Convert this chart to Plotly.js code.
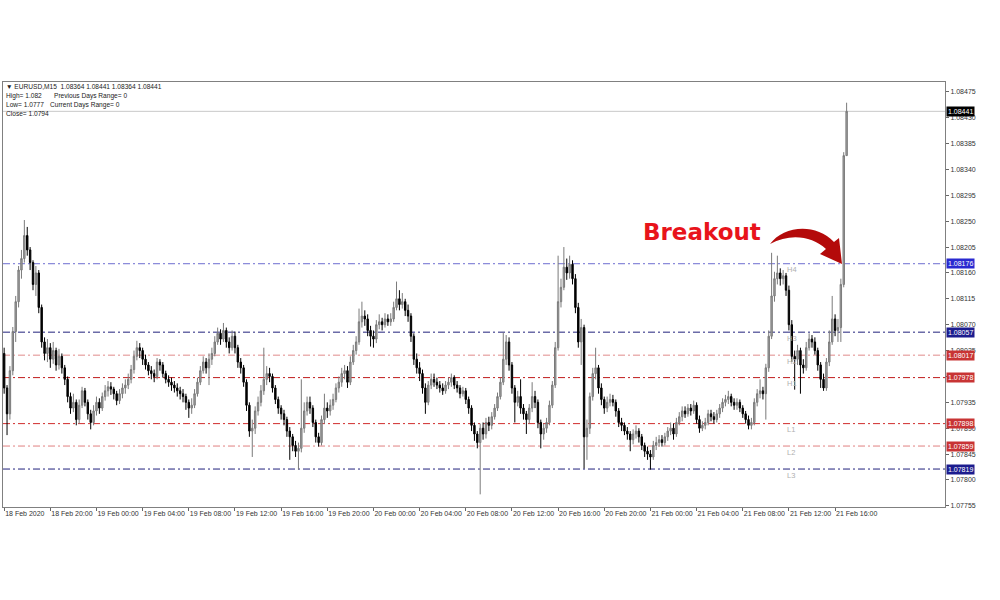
<!DOCTYPE html>
<html>
<head>
<meta charset="utf-8">
<script src="https://cdn.plot.ly/plotly-3.0.1.min.js"></script>
<style>html,body{margin:0;padding:0;background:#fff;}#chart{width:1000px;height:600px;}</style>
</head>
<body>
<div id="chart"></div>
<script>
// ---- data (EURUSD M15, 18 Feb 2020 16:00 -> 21 Feb 2020 17:00) ----
const startTime = "2020-02-18 16:00";
const barMinutes = 15;
const firstOpen = 1.08020;
const closes = [
1.07960,1.07915,1.07990,1.08058,1.08110,1.08165,1.08185,1.08225,1.08200,1.08178,1.08140,1.08160,1.08100,1.08040,1.08020,1.08030,
1.08010,1.08025,1.08000,1.08015,1.07995,1.07975,1.07945,1.07925,1.07935,1.07905,1.07930,1.07955,1.07935,1.07915,1.07900,1.07920,
1.07935,1.07925,1.07945,1.07955,1.07962,1.07958,1.07950,1.07938,1.07950,1.07960,1.07965,1.07975,1.07992,1.08015,1.08030,1.08025,
1.08010,1.08000,1.07990,1.07985,1.07980,1.08005,1.08000,1.07985,1.07975,1.07970,1.07965,1.07960,1.07955,1.07950,1.07945,1.07935,
1.07925,1.07930,1.07950,1.07970,1.07990,1.08005,1.07995,1.08010,1.08020,1.08040,1.08055,1.08045,1.08060,1.08040,1.08030,1.08050,
1.08030,1.08005,1.07995,1.07970,1.07930,1.07885,1.07890,1.07920,1.07935,1.07955,1.07975,1.07985,1.07980,1.07960,1.07940,1.07925,
1.07915,1.07905,1.07885,1.07875,1.07860,1.07850,1.07855,1.07890,1.07920,1.07935,1.07925,1.07900,1.07875,1.07865,1.07905,1.07925,
1.07920,1.07930,1.07940,1.07960,1.07970,1.07985,1.07990,1.07970,1.08005,1.08025,1.08040,1.08075,1.08085,1.08080,1.08060,1.08050,
1.08045,1.08070,1.08075,1.08070,1.08080,1.08075,1.08080,1.08100,1.08115,1.08105,1.08110,1.08095,1.08085,1.08050,1.08010,1.07995,
1.07985,1.07960,1.07935,1.07965,1.07975,1.07970,1.07965,1.07960,1.07955,1.07965,1.07970,1.07978,1.07965,1.07960,1.07950,1.07955,
1.07940,1.07925,1.07895,1.07880,1.07865,1.07890,1.07880,1.07900,1.07895,1.07910,1.07925,1.07945,1.07970,1.08010,1.08040,1.08000,
1.07960,1.07935,1.07945,1.07925,1.07915,1.07905,1.07925,1.07945,1.07935,1.07900,1.07880,1.07890,1.07900,1.07930,1.07965,1.08030,
1.08110,1.08135,1.08170,1.08160,1.08175,1.08150,1.08100,1.08040,1.08065,1.07875,1.07890,1.07945,1.07985,1.07995,1.07960,1.07940,
1.07925,1.07935,1.07940,1.07935,1.07920,1.07900,1.07895,1.07885,1.07880,1.07870,1.07880,1.07885,1.07875,1.07860,1.07850,1.07845,
1.07840,1.07860,1.07865,1.07870,1.07865,1.07875,1.07885,1.07890,1.07880,1.07900,1.07910,1.07920,1.07915,1.07925,1.07920,1.07930,
1.07905,1.07890,1.07895,1.07900,1.07915,1.07910,1.07905,1.07915,1.07925,1.07935,1.07940,1.07945,1.07935,1.07930,1.07935,1.07925,
1.07915,1.07905,1.07895,1.07900,1.07935,1.07950,1.07955,1.07950,1.07995,1.08050,1.08120,1.08150,1.08160,1.08150,1.08155,1.08130,
1.08070,1.08015,1.08010,1.08025,1.08000,1.07995,1.08030,1.08045,1.08040,1.08025,1.08000,1.07975,1.07960,1.08005,1.08040,1.08080,
1.08060,1.08065,1.08140,1.08364,1.08441
];
const highs = [
1.08030,1.07965,1.07998,1.08066,1.08120,1.08172,1.08200,1.08252,1.08240,1.08205,1.08182,1.08172,1.08165,1.08105,1.08048,1.08045,
1.08038,1.08040,1.08030,1.08028,1.08020,1.08000,1.07980,1.07952,1.07950,1.07940,1.07940,1.07962,1.07960,1.07940,1.07922,1.07930,
1.07945,1.07942,1.07952,1.07965,1.07972,1.07970,1.07962,1.07955,1.07958,1.07968,1.07975,1.07985,1.08000,1.08025,1.08042,1.08038,
1.08030,1.08018,1.08005,1.07998,1.07992,1.08012,1.08010,1.08005,1.07990,1.07982,1.07978,1.07972,1.07968,1.07962,1.07958,1.07950,
1.07940,1.07942,1.07958,1.07978,1.07998,1.08015,1.08012,1.08020,1.08030,1.08050,1.08065,1.08062,1.08073,1.08065,1.08048,1.08060,
1.08058,1.08035,1.08012,1.08000,1.07975,1.07935,1.07905,1.07928,1.07945,1.07965,1.08030,1.07998,1.07995,1.07985,1.07965,1.07945,
1.07930,1.07922,1.07910,1.07892,1.07880,1.07868,1.07865,1.07975,1.07935,1.07945,1.07945,1.07930,1.07905,1.07882,1.07912,1.07950,
1.07935,1.07940,1.07950,1.07968,1.07980,1.07995,1.08000,1.07998,1.08015,1.08035,1.08050,1.08098,1.08110,1.08095,1.08088,1.08068,
1.08060,1.08078,1.08088,1.08082,1.08090,1.08088,1.08090,1.08110,1.08145,1.08130,1.08125,1.08115,1.08105,1.08090,1.08055,1.08020,
1.08005,1.07992,1.07968,1.07972,1.07985,1.07985,1.07978,1.07972,1.07968,1.07972,1.07978,1.07985,1.07982,1.07972,1.07965,1.07962,
1.07960,1.07945,1.07930,1.07900,1.07885,1.07898,1.07900,1.07908,1.07910,1.07918,1.07932,1.07952,1.07978,1.08056,1.08052,1.08048,
1.08005,1.07965,1.07955,1.07975,1.07932,1.07920,1.07932,1.07970,1.07955,1.07940,1.07905,1.07898,1.07908,1.07938,1.07972,1.08040,
1.08190,1.08150,1.08205,1.08185,1.08190,1.08182,1.08158,1.08108,1.08080,1.08070,1.07905,1.07952,1.07995,1.08030,1.08000,1.07968,
1.07945,1.07945,1.07950,1.07948,1.07940,1.07925,1.07908,1.07900,1.07892,1.07885,1.07888,1.07895,1.07890,1.07880,1.07865,1.07858,
1.07852,1.07868,1.07875,1.07878,1.07878,1.07882,1.07892,1.07900,1.07898,1.07908,1.07918,1.07928,1.07928,1.07932,1.07932,1.07938,
1.07935,1.07912,1.07902,1.07908,1.07922,1.07922,1.07918,1.07922,1.07932,1.07942,1.07948,1.07955,1.07950,1.07942,1.07942,1.07940,
1.07930,1.07920,1.07912,1.07908,1.07942,1.07958,1.07975,1.07962,1.08002,1.08060,1.08195,1.08162,1.08190,1.08168,1.08165,1.08160,
1.08138,1.08078,1.08025,1.08035,1.08030,1.08010,1.08040,1.08055,1.08052,1.08048,1.08030,1.08005,1.07985,1.08012,1.08060,1.08120,
1.08088,1.08080,1.08150,1.08370,1.08456
];
const lows = [
1.07950,1.07878,1.07905,1.07982,1.08040,1.08100,1.08150,1.08178,1.08190,1.08165,1.08130,1.08120,1.08090,1.08030,1.08008,1.08005,
1.07995,1.08002,1.07990,1.07992,1.07985,1.07965,1.07935,1.07915,1.07918,1.07895,1.07898,1.07925,1.07928,1.07905,1.07888,1.07895,
1.07912,1.07915,1.07920,1.07938,1.07945,1.07948,1.07940,1.07930,1.07932,1.07942,1.07950,1.07958,1.07968,1.07985,1.08008,1.08012,
1.08000,1.07992,1.07982,1.07975,1.07970,1.07975,1.07990,1.07978,1.07968,1.07962,1.07955,1.07952,1.07945,1.07940,1.07935,1.07922,
1.07908,1.07915,1.07925,1.07945,1.07965,1.07985,1.07985,1.07965,1.08000,1.08015,1.08035,1.08035,1.08040,1.08030,1.08020,1.08025,
1.08020,1.07995,1.07985,1.07962,1.07920,1.07875,1.07840,1.07880,1.07912,1.07928,1.07948,1.07965,1.07970,1.07952,1.07932,1.07915,
1.07905,1.07895,1.07875,1.07835,1.07850,1.07840,1.07818,1.07848,1.07882,1.07912,1.07915,1.07892,1.07865,1.07858,1.07860,1.07898,
1.07908,1.07912,1.07922,1.07935,1.07952,1.07962,1.07975,1.07960,1.07965,1.08000,1.08018,1.08035,1.08065,1.08068,1.08050,1.08032,
1.08030,1.08038,1.08062,1.08060,1.08065,1.08068,1.08068,1.08075,1.08095,1.08095,1.08098,1.08085,1.08075,1.08040,1.08000,1.07985,
1.07972,1.07950,1.07915,1.07930,1.07958,1.07962,1.07958,1.07952,1.07948,1.07950,1.07958,1.07962,1.07958,1.07952,1.07942,1.07945,
1.07932,1.07915,1.07885,1.07868,1.07855,1.07775,1.07870,1.07872,1.07885,1.07888,1.07905,1.07920,1.07940,1.07965,1.08000,1.07990,
1.07950,1.07900,1.07928,1.07915,1.07905,1.07880,1.07898,1.07918,1.07925,1.07890,1.07855,1.07870,1.07882,1.07895,1.07925,1.07960,
1.08025,1.08100,1.08130,1.08148,1.08150,1.08140,1.08090,1.08030,1.08000,1.07820,1.07835,1.07880,1.07938,1.07975,1.07950,1.07930,
1.07915,1.07918,1.07928,1.07928,1.07910,1.07892,1.07885,1.07878,1.07870,1.07850,1.07862,1.07872,1.07865,1.07852,1.07840,1.07835,
1.07818,1.07835,1.07852,1.07858,1.07858,1.07860,1.07868,1.07878,1.07870,1.07875,1.07895,1.07902,1.07908,1.07910,1.07912,1.07915,
1.07898,1.07882,1.07885,1.07888,1.07895,1.07902,1.07898,1.07900,1.07908,1.07918,1.07928,1.07932,1.07928,1.07922,1.07922,1.07918,
1.07908,1.07898,1.07888,1.07888,1.07895,1.07928,1.07942,1.07940,1.07905,1.07988,1.08045,1.08110,1.08140,1.08138,1.08140,1.08120,
1.08060,1.08005,1.07957,1.08000,1.07950,1.07985,1.07990,1.08025,1.08030,1.08018,1.07990,1.07960,1.07955,1.07955,1.07998,1.08035,
1.08050,1.08040,1.08040,1.08135,1.08364
];
const xTickLabels = ["18 Feb 2020","18 Feb 20:00","19 Feb 00:00","19 Feb 04:00","19 Feb 08:00","19 Feb 12:00","19 Feb 16:00","19 Feb 20:00","20 Feb 00:00","20 Feb 04:00","20 Feb 08:00","20 Feb 12:00","20 Feb 16:00","20 Feb 20:00","21 Feb 00:00","21 Feb 04:00","21 Feb 08:00","21 Feb 12:00","21 Feb 16:00"];
const yTicks = [1.07755,1.07800,1.07845,1.07890,1.07935,1.07980,1.08025,1.08070,1.08115,1.08160,1.08205,1.08250,1.08295,1.08340,1.08385,1.08430,1.08475];
const yTickHidden = [1.07980]; // fully covered by a level label in the reference
const levelPrices = [1.08176,1.08057,1.08017,1.07978,1.07898,1.07859,1.07819];
const levelNames = ["H4","H3","H2","H1","L1","L2","L3"];
const levelLineColors = ["#6c6cd0","#20207c","#e08a8a","#c01c1c","#d02c2c","#e08080","#20207c"];
const levelLabelColors = ["#2a2ad0","#1c1c8e","#c83434","#c83434","#c83434","#c83434","#1c1c8e"];
const bidPrice = 1.08441;
const infoLines = ["\u25BC EURUSD,M15  1.08364 1.08441 1.08364 1.08441","High= 1.082","Low= 1.0777","Close= 1.0794"];
const infoLines2 = ["","Previous Days Range= 0","Current Days Range= 0",""];

// ---- helpers ----
const [sd, st] = startTime.split(" ");
const [Y,M,D] = sd.split("-").map(Number);
const [hh,mm] = st.split(":").map(Number);
const t0 = Date.UTC(Y, M-1, D, hh, mm);
function barTime(i){ return new Date(t0 + i*barMinutes*60000).toISOString().slice(0,19).replace("T"," "); }
const xs = closes.map((_, i) => barTime(i));
const opens = [firstOpen].concat(closes.slice(0, -1));
const tickVals = xTickLabels.map((_, k) => barTime(k*16));
const yTickText = yTicks.map(v => yTickHidden.includes(v) ? "" : v.toFixed(5));

// plot area in pixels (for decorations)
const PL = 3, PR = 945, PT = 82, PB = 507;
const px = v => (v - PL) / (PR - PL);
const py = v => (PB - v) / (PB - PT);

const shapes = [];
shapes.push({type:"line", xref:"paper", x0:0, x1:1, yref:"y", y0:bidPrice, y1:bidPrice, line:{color:"#c8c8c8", width:1}, layer:"below"});
levelPrices.forEach((p, k) => {
  shapes.push({type:"line", xref:"paper", x0:0, x1:1, yref:"y", y0:p, y1:p,
    line:{color:levelLineColors[k], width:1, dash:"7px,3px,2px,3px"}, layer:"below"});
});
// curved breakout arrow (decoration)
const arrowPts = [
  ["M",770,244],["C",783,226],[815,222],[834,242],["L",839,238],["L",842,264],["L",820,254],["L",826,249],["C",812,236],[790,233],[770,244]
];
let path = "";
arrowPts.forEach(p => {
  if (typeof p[0] === "string") path += p[0] + px(p[1]).toFixed(5) + "," + py(p[2]).toFixed(5) + " ";
  else path += px(p[0]).toFixed(5) + "," + py(p[1]).toFixed(5) + " ";
});
path += "Z";
shapes.push({type:"path", xref:"paper", yref:"paper", path:path, fillcolor:"#b40a0a", line:{width:0}});

const annotations = [];
const smallFont = "Liberation Sans, Arial, sans-serif";
annotations.push({xref:"paper", x:1, xanchor:"left", xshift:1, yref:"y", y:bidPrice, yanchor:"middle",
  text:bidPrice.toFixed(5), showarrow:false, bgcolor:"#000", borderpad:1,
  font:{family:smallFont, size:7, color:"#fff"}});
levelPrices.forEach((p, k) => {
  annotations.push({xref:"paper", x:1, xanchor:"left", xshift:1, yref:"y", y:p, yanchor:"middle",
    text:p.toFixed(5), showarrow:false, bgcolor:levelLabelColors[k], borderpad:1,
    font:{family:smallFont, size:7, color:"#fff"}});
  annotations.push({xref:"paper", x:px(785), xanchor:"left", yref:"y", y:p, yanchor:"middle", yshift:-6,
    text:levelNames[k], showarrow:false,
    font:{family:smallFont, size:7.5, color:"#b0b0b0"}});
});
const infoY = [87, 96, 105, 113];
infoLines.forEach((s, k) => {
  annotations.push({xref:"paper", x:0, xanchor:"left", xshift:1, yref:"paper", y:py(infoY[k]), yanchor:"middle",
    text:s, showarrow:false, font:{family:smallFont, size:6.6, color:"#222"}});
  if (infoLines2[k]) annotations.push({xref:"paper", x:px(k===1?52:48), xanchor:"left", yref:"paper", y:py(infoY[k]), yanchor:"middle",
    text:infoLines2[k], showarrow:false, font:{family:smallFont, size:6.6, color:"#222"}});
});
annotations.push({xref:"paper", x:px(702), xanchor:"center", yref:"paper", y:py(232), yanchor:"middle",
  text:"Breakout", showarrow:false, font:{family:"DejaVu Sans, sans-serif", size:23, color:"#e8141b", weight:"bold"}});

const trace = {
  type:"candlestick", x:xs, open:opens, high:highs, low:lows, close:closes,
  increasing:{line:{color:"#7a7a7a", width:1}, fillcolor:"#a4a4a4"},
  decreasing:{line:{color:"#000000", width:1}, fillcolor:"#000000"},
  whiskerwidth:0, hoverinfo:"skip", showlegend:false
};

const layout = {
  width:1000, height:600,
  margin:{l:PL, r:1000-PR, t:PT, b:600-PB, pad:0},
  paper_bgcolor:"#ffffff", plot_bgcolor:"#ffffff",
  showlegend:false,
  xaxis:{type:"date", range:[barTime(-0.4), barTime(326.1)], tickvals:tickVals, ticktext:xTickLabels,
    tickangle:0, tickfont:{family:smallFont, size:7, color:"#333"},
    ticks:"outside", ticklen:3, tickcolor:"#666", ticklabelposition:"outside right",
    showline:true, linecolor:"#808080", linewidth:1, mirror:true, showgrid:false, zeroline:false,
    rangeslider:{visible:false}, fixedrange:true},
  yaxis:{side:"right", range:[1.07753, 1.08492], tickvals:yTicks, ticktext:yTickText,
    tickfont:{family:smallFont, size:7, color:"#333"},
    ticks:"outside", ticklen:3, tickcolor:"#666",
    showline:true, linecolor:"#808080", linewidth:1, mirror:true, showgrid:false, zeroline:false, fixedrange:true},
  shapes:shapes, annotations:annotations
};

Plotly.newPlot("chart", [trace], layout, {displayModeBar:false, staticPlot:true});
</script>
</body>
</html>
